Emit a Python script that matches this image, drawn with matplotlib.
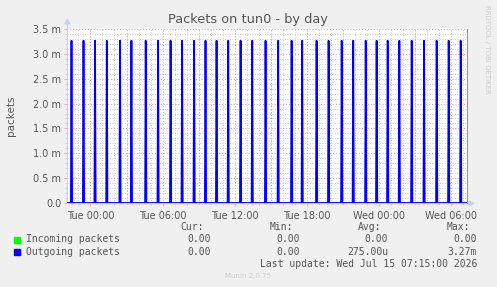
import matplotlib
matplotlib.use("Agg")
import matplotlib.pyplot as plt
from matplotlib.ticker import FixedLocator, FixedFormatter, MultipleLocator
import numpy as np

# ---- data ----
title = "Packets on tun0 - by day"
ylabel = "packets"
# spike times in hours relative to Tue 00:00
out_spike_hours = [-1.58, -0.58, 0.38, 1.36, 2.46, 3.41, 4.6, 5.63, 6.67, 7.63,
                   8.63, 9.58, 10.5, 11.47, 12.5, 13.47, 14.58, 15.63, 16.75, 17.63,
                   18.83, 19.83, 20.92, 21.88, 22.92, 23.83, 24.75, 25.72, 26.75,
                   27.78, 28.83, 29.83, 30.83]
out_spike_value = 3.27e-3
in_value = 0.0
x_start_h, x_end_h = -1.98, 31.33
xtick_hours = [0, 6, 12, 18, 24, 30]
xtick_labels = ["Tue 00:00", "Tue 06:00", "Tue 12:00", "Tue 18:00", "Wed 00:00", "Wed 06:00"]
ytick_values = [0, 0.5e-3, 1.0e-3, 1.5e-3, 2.0e-3, 2.5e-3, 3.0e-3, 3.5e-3]
ytick_labels = ["0.0", "0.5 m", "1.0 m", "1.5 m", "2.0 m", "2.5 m", "3.0 m", "3.5 m"]
legend_names = ["Incoming packets", "Outgoing packets"]
legend_colors = ["#00ff00", "#0000ff"]
legend_cur = ["0.00", "0.00"]
legend_min = ["0.00", "0.00"]
legend_avg = ["0.00", "275.00u"]
legend_max = ["0.00", "3.27m"]
last_update = "Last update: Wed Jul 15 07:15:00 2026"
munin_ver = "Munin 2.0.75"

W, H = 497, 287
fig = plt.figure(figsize=(W / 100, H / 100), dpi=100)
fig.patch.set_facecolor("#f0f0f0")

L, R, T, B = 66.7, 466.7, 29, 203
ax = fig.add_axes([L / W, 1 - B / H, (R - L) / W, (B - T) / H])
ax.set_facecolor("white")
ax.set_xlim(x_start_h, x_end_h)
ax.set_ylim(0, 3.5e-3)

# grids
minor_c = "#c0c0c0"
major_c = "#eaa0a0"
ax.xaxis.set_minor_locator(MultipleLocator(1))
ax.yaxis.set_minor_locator(MultipleLocator(0.1e-3))
ax.grid(which="minor", color=minor_c, linestyle=(0, (1, 2)), linewidth=0.6)
ax.yaxis.set_major_locator(FixedLocator(ytick_values))
ax.yaxis.set_major_formatter(FixedFormatter(ytick_labels))
ax.xaxis.set_major_locator(FixedLocator(xtick_hours))
ax.xaxis.set_major_formatter(FixedFormatter(xtick_labels))
for h in np.arange(0, x_end_h, 3):
    ax.axvline(h, color=major_c, linestyle=(0, (1, 2)), linewidth=0.7, zorder=0.6)
for v in ytick_values[1:]:
    ax.axhline(v, color=major_c, linestyle=(0, (1, 2)), linewidth=0.7, zorder=0.6)
ax.set_axisbelow(True)

for s in ["top", "left", "bottom"]:
    ax.spines[s].set_visible(False)
ax.spines["right"].set_color("#999999")
ax.spines["right"].set_linewidth(0.8)

ax.tick_params(axis="both", which="both", length=2, width=0.6, color="#e8a0a0",
               labelsize=7, labelcolor="#555555", pad=2)
ax.tick_params(axis="x", which="major", pad=4)
ax.tick_params(axis="both", which="minor", color="#cccccc", length=1.5)

# data lines
ax.plot([x_start_h, x_end_h], [in_value, in_value], color=legend_colors[0], lw=1.0, zorder=3)
dt = 0.05
xs, ys = [x_start_h], [0.0]
for t in out_spike_hours:
    xs += [t - dt, t, t + dt]
    ys += [0.0, out_spike_value, 0.0]
xs.append(x_end_h)
ys.append(0.0)
ax.plot(xs, ys, color=legend_colors[1], lw=1.3, zorder=4, solid_joinstyle="miter")

# axis lines with arrows
ax_c = "#c8d0f0"
ax.plot([x_start_h, x_end_h + 0.35], [0, 0], color=ax_c, lw=0.8, clip_on=False, zorder=2)
ax.plot([x_start_h, x_start_h], [0, 3.5e-3 + 0.17e-3], color=ax_c, lw=0.8, clip_on=False, zorder=2)
ax.plot([x_end_h + 0.35], [0], marker=">", color=ax_c, ms=3.5, clip_on=False)
ax.plot([x_start_h], [3.5e-3 + 0.17e-3], marker="^", color=ax_c, ms=3.5, clip_on=False)

# texts
fig.text(248 / W, 1 - 19 / H, title, ha="center", va="center", fontsize=9.3, color="#555555")
fig.text(11 / W, 1 - 116 / H, ylabel, ha="center", va="center", rotation=90, fontsize=7.5, color="#555555")
fig.text(487.5 / W, 1 - 5 / H, "RRDTOOL / TOBI OETIKER", ha="center", va="top", rotation=270,
         fontsize=5, color="#cccccc")

mono = dict(family="DejaVu Sans Mono", fontsize=7, color="#555555", va="center")
y_hdr, y_r1, y_r2 = 227.5, 239.5, 252
fig.text(204 / W, 1 - y_hdr / H, "Cur:", ha="right", **mono)
fig.text(293 / W, 1 - y_hdr / H, "Min:", ha="right", **mono)
fig.text(381.5 / W, 1 - y_hdr / H, "Avg:", ha="right", **mono)
fig.text(470 / W, 1 - y_hdr / H, "Max:", ha="right", **mono)
for i, yy in enumerate([y_r1, y_r2]):
    fig.patches.append(plt.Rectangle((14 / W, 1 - (yy + 3) / H), 6 / W, 6 / H,
                                     transform=fig.transFigure, color=legend_colors[i]))
    fig.text(26 / W, 1 - yy / H, legend_names[i], ha="left", **mono)
    fig.text(210.5 / W, 1 - yy / H, legend_cur[i], ha="right", **mono)
    fig.text(299.5 / W, 1 - yy / H, legend_min[i], ha="right", **mono)
    fig.text(388 / W, 1 - yy / H, legend_avg[i], ha="right", **mono)
    fig.text(477 / W, 1 - yy / H, legend_max[i], ha="right", **mono)
fig.text(477 / W, 1 - 264 / H, last_update, ha="right", **mono)
fig.text(248 / W, 1 - 276 / H, munin_ver, ha="center", va="center", fontsize=5, color="#cccccc")

fig.savefig("out.png", dpi=100, facecolor=fig.get_facecolor())
